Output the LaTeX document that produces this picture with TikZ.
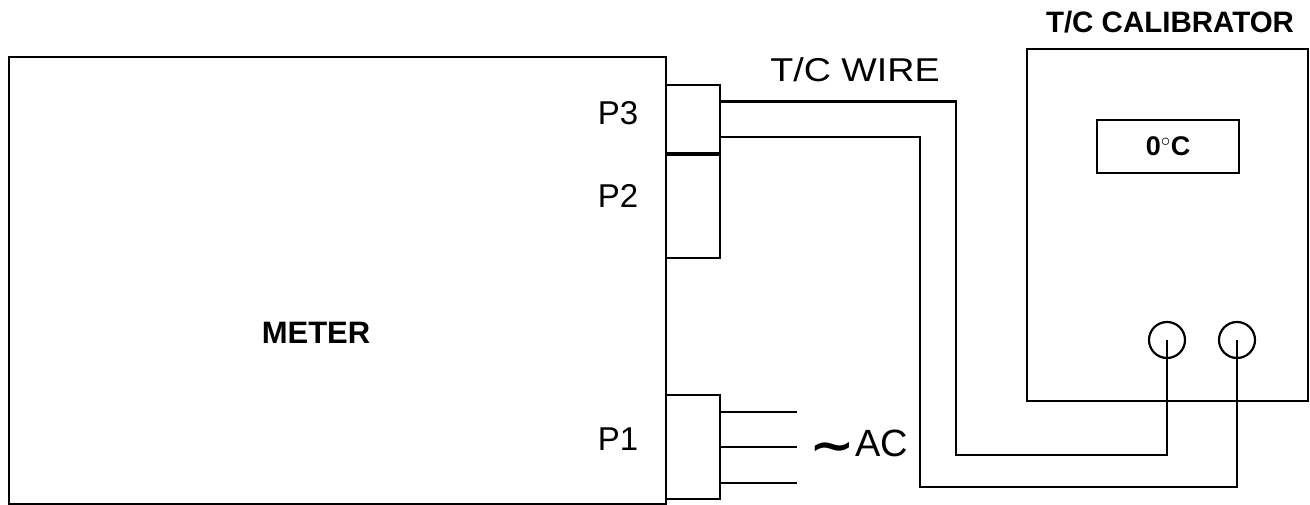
\documentclass[tikz,border=0pt]{standalone}
\usepackage{fix-cm}
\usepackage{fontspec}
\setmainfont{Liberation Sans}
\newfontfamily\symfnt{DejaVu Sans}
\usetikzlibrary{calc}
\tikzset{
  box/.style={draw, line width=2.2pt, inner sep=0pt, anchor=north west},
  port/.style={circle, draw, line width=2.2pt, inner sep=0pt, minimum size=36pt},
  wire/.style={line width=2.2pt},
  lbl/.style={inner sep=0pt, anchor=base, font=\fontsize{33}{40}\selectfont},
  blbl/.style={inner sep=0pt, anchor=base, font=\fontsize{31}{36}\selectfont\bfseries},
}
\begin{document}
\begin{tikzpicture}[x=1pt,y=-1pt]
\useasboundingbox (0,0) rectangle (1310,505);
% meter
\node[box, minimum width=657pt, minimum height=447pt] (meter) at (8,55.7) {};
\node[blbl] (metertxt) at (316,343) {METER};
% connectors
\node[box, minimum width=54pt, minimum height=68pt] (p3) at (665,84) {};
\node[box, minimum width=54pt, minimum height=103pt] (p2) at (665,154) {};
\node[box, minimum width=54pt, minimum height=104pt] (p1) at (665,394) {};
\node[lbl] (p3txt) at (618,125) {P3};
\node[lbl] (p2txt) at (618,208) {P2};
\node[lbl] (p1txt) at (618,450) {P1};
% calibrator
\node[box, minimum width=281pt, minimum height=352pt] (cal) at (1026,48) {};
\node[blbl, font=\fontsize{29.5}{34}\selectfont\bfseries] (caltxt) at (1170,33) {T/C CALIBRATOR};
\node[box, minimum width=142pt, minimum height=53pt] (disp) at (1096,119) {};
\node[blbl, font=\fontsize{27}{32}\selectfont\bfseries] (disptxt) at (disp.center) [anchor=center] {0$^\circ$C};
\node[port] (c1) at (1167,340) {};
\node[port] (c2) at (1237,340) {};
% T/C wire
\node[lbl] (wiretxt) at (855,82) {\scalebox{1.14}[1]{T/C WIRE}};
\coordinate (u) at ($(p3.north east)!0.25!(p3.south east)$);
\coordinate (l) at ($(p3.north east)!0.76!(p3.south east)$);
\coordinate (w1) at (956,455);
\coordinate (w2) at (920,487);
\draw[wire] (u) -| (w1) -| (c1.center);
\draw[wire] (l) -| (w2) -| (c2.center);
% AC
\coordinate (ac1) at (797,412);
\coordinate (ac2) at (797,447);
\coordinate (ac3) at (797,483);
\draw[wire] (p1.east |- ac1) -- (ac1);
\draw[wire] (p1.east |- ac2) -- (ac2);
\draw[wire] (p1.east |- ac3) -- (ac3);
\node[inner sep=0pt, anchor=center, font=\symfnt\bfseries\fontsize{42}{48}\selectfont] (tilde) at (832,452) {\scalebox{1.3}[1.1]{∼}};
\node[inner sep=0pt, anchor=base west, font=\fontsize{38}{46}\selectfont] (actxt) at (855,456) {AC};
\end{tikzpicture}
\end{document}
